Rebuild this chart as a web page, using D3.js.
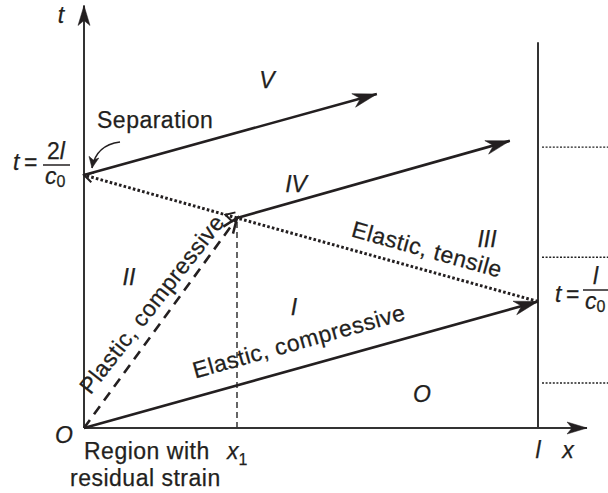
<!DOCTYPE html>
<meta charset="utf-8">
<head>
<script src="https://d3js.org/d3.v7.min.js"></script>
<style>
  body { margin: 0; background: #fff; }
  text { font-family: "Liberation Sans", Arial, Helvetica, sans-serif; fill: #231f20; font-size: 23px; letter-spacing: 0.5px; stroke: #231f20; stroke-width: 0.25px; }
  .it { font-style: italic; letter-spacing: 0; }
</style>
</head>
<body>
<div id="chart"></div>
<script>
  // values in units of l (position) and l/c0 (time)
  var x1 = 0.337;
  var elasticCompressive = [[0, 0], [1, 1]];
  var plasticCompressive = [[0, 0], [x1, 1.66]];
  var reflectedFirst = [[1, 1], [x1, 1.66]];
  var reflectedSecond = [[x1, 1.66], [0, 2]];
  var waveIV = [[x1, 1.66], [0.938, 2.27]];
  var waveV = [[0, 2], [0.645, 2.64]];
  var guideLevels = [2.22, 1.35, 0.356];
  var axisEnds = { t: 3.34, x: 1.108, bar: 3.05 };

  var regionLabels = ["O", "I", "II", "III", "IV", "V"];
  var waveLabels = ["Elastic, compressive", "Plastic, compressive", "Elastic, tensile"];

  var W = 608, H = 493;

  var svg = d3.select("#chart").append("svg")
    .attr("width", W).attr("height", H);

  var x = d3.scaleLinear().domain([0, 1]).range([84, 538]);
  var t = d3.scaleLinear().domain([0, 2]).range([428, 175]);

  var line = d3.line().x(function(d) { return x(d[0]); }).y(function(d) { return t(d[1]); });

  // markers
  var defs = svg.append("defs");
  function marker(id, path, filled, refX, sw) {
    defs.append("marker")
      .attr("id", id)
      .attr("markerUnits", "userSpaceOnUse")
      .attr("viewBox", "-30 -15 40 30")
      .attr("markerWidth", 40).attr("markerHeight", 30)
      .attr("refX", refX || 0).attr("refY", 0)
      .attr("orient", "auto")
      .append("path")
        .attr("d", path)
        .attr("fill", filled ? "#231f20" : "none")
        .attr("stroke", "#231f20")
        .attr("stroke-width", sw || (filled ? 0.5 : 2));
  }
  marker("head", "M0,0 L-24,-7 L-17,0 L-24,7 Z", true);
  marker("axhead", "M0,0 L-20,-6 L-15,0 L-20,6 Z", true);
  marker("small", "M0,0 L-11,-5 L-8,0 L-11,5 Z", true);
  marker("chev", "M-9,-5 L0,0 L-9,5", false, 0, 2);
  marker("chevA", "M-9,-5 L0,0 L-9,5", false, -12, 2);
  marker("dashhead", "M-15,-6 L0,0 L-15,6", false, 0, 2.5);

  // axes
  svg.append("line")
    .attr("x1", x(0)).attr("y1", t(0))
    .attr("x2", x(0)).attr("y2", t(axisEnds.t))
    .attr("stroke", "#333").attr("stroke-width", 2)
    .attr("marker-end", "url(#axhead)");
  svg.append("line")
    .attr("x1", x(0)).attr("y1", t(0))
    .attr("x2", x(axisEnds.x)).attr("y2", t(0))
    .attr("stroke", "#333").attr("stroke-width", 2)
    .attr("marker-end", "url(#axhead)");
  // free end x = l
  svg.append("line")
    .attr("x1", x(1)).attr("y1", t(0))
    .attr("x2", x(1)).attr("y2", t(axisEnds.bar))
    .attr("stroke", "#333").attr("stroke-width", 2);

  // dotted guides right of the bar
  svg.selectAll(".guide")
    .data(guideLevels)
    .enter().append("line")
      .attr("x1", x(1) + 4).attr("x2", W)
      .attr("y1", function(d) { return t(d); })
      .attr("y2", function(d) { return t(d); })
      .attr("stroke", "#222").attr("stroke-width", 1.4)
      .attr("stroke-dasharray", "2,1.6");

  // x1 dashed vertical
  svg.append("line")
    .attr("x1", x(x1)).attr("y1", t(0))
    .attr("x2", x(x1)).attr("y2", t(plasticCompressive[1][1]) + 4)
    .attr("stroke", "#333").attr("stroke-width", 1.5)
    .attr("stroke-dasharray", "6,4");

  // waves
  svg.append("path").attr("d", line(elasticCompressive))
    .attr("fill", "none").attr("stroke", "#231f20").attr("stroke-width", 2.6)
    .attr("marker-end", "url(#head)");
  svg.append("path").attr("d", line(plasticCompressive))
    .attr("fill", "none").attr("stroke", "#231f20").attr("stroke-width", 2.6)
    .attr("stroke-dasharray", "10,7")
    .attr("marker-end", "url(#dashhead)");
  svg.append("path").attr("d", line(reflectedFirst))
    .attr("fill", "none").attr("stroke", "#231f20").attr("stroke-width", 3)
    .attr("stroke-dasharray", "2.6,2.2")
    .attr("marker-end", "url(#chevA)");
  svg.append("path").attr("d", line(reflectedSecond))
    .attr("fill", "none").attr("stroke", "#231f20").attr("stroke-width", 3)
    .attr("stroke-dasharray", "2.6,2.2")
    .attr("marker-end", "url(#chev)");
  svg.append("path").attr("d", line(waveIV))
    .attr("fill", "none").attr("stroke", "#231f20").attr("stroke-width", 2.6)
    .attr("marker-end", "url(#head)");
  svg.append("path").attr("d", line(waveV))
    .attr("fill", "none").attr("stroke", "#231f20").attr("stroke-width", 2.6)
    .attr("marker-end", "url(#head)");

  // separation pointer
  var sx = x(0), sy = t(2);
  svg.append("path")
    .attr("d", "M" + (sx + 36) + "," + (sy - 33) + " Q" + (sx + 12) + "," + (sy - 30) + " " + (sx + 8) + "," + (sy - 7))
    .attr("fill", "none").attr("stroke", "#231f20").attr("stroke-width", 1.5)
    .attr("marker-end", "url(#small)");
  svg.append("text").attr("x", 97).attr("y", 128).text("Separation");

  // wave labels along the lines
  var angE = Math.atan2(t(1) - t(0), x(1) - x(0)) * 180 / Math.PI;
  var angT = Math.atan2(t(2) - t(1), x(0) - x(1)) * 180 / Math.PI + 180;
  function along(txt, cx, cy, ang) {
    svg.append("text")
      .attr("text-anchor", "middle")
      .attr("transform", "translate(" + cx + "," + cy + ") rotate(" + ang + ")")
      .text(txt);
  }
  along(waveLabels[0], 301, 349, angE);
  along(waveLabels[1], 158, 309, -52);
  along(waveLabels[2], 425, 257, angT);

  // region numerals
  var regionPos = [[422, 402], [294, 315], [129, 285], [487, 247], [296, 192], [267, 88]];
  svg.selectAll(".region")
    .data(regionLabels)
    .enter().append("text")
      .attr("class", "it")
      .attr("text-anchor", "middle")
      .attr("x", function(d, i) { return regionPos[i][0]; })
      .attr("y", function(d, i) { return regionPos[i][1]; })
      .text(function(d) { return d; });

  // axis labels
  svg.append("text").attr("class", "it").attr("text-anchor", "middle").attr("x", 61).attr("y", 23).text("t");
  svg.append("text").attr("class", "it").attr("text-anchor", "middle").attr("x", 64).attr("y", 443).text("O");
  svg.append("text").attr("class", "it").attr("text-anchor", "middle").attr("x", x(1)).attr("y", 458).text("l");
  svg.append("text").attr("class", "it").attr("text-anchor", "middle").attr("x", 568).attr("y", 458).text("x");
  var x1t = svg.append("text").attr("class", "it").attr("x", x(x1) - 10).attr("y", 459);
  x1t.append("tspan").text("x");
  x1t.append("tspan").attr("font-style", "normal").attr("font-size", "16px").attr("dy", 6).text("1");
  svg.append("text").attr("x", 84).attr("y", 459).text("Region with");
  svg.append("text").attr("x", 70).attr("y", 486).text("residual strain");

  // time fractions
  function fraction(tx, tyBase, barY, barX0, barX1, num, numX) {
    svg.append("text").attr("class", "it").attr("x", tx).attr("y", tyBase).text("t");
    svg.append("text").attr("x", tx + 11).attr("y", tyBase).style("letter-spacing", "0").text("=");
    svg.append("line").attr("x1", barX0).attr("x2", barX1)
      .attr("y1", barY).attr("y2", barY)
      .attr("stroke", "#231f20").attr("stroke-width", 1.5);
    var n = svg.append("text").attr("x", numX).attr("y", barY - 6).style("letter-spacing", "0");
    if (num.length > 1) n.append("tspan").text(num[0]);
    n.append("tspan").attr("font-style", "italic").text(num[num.length - 1]);
    var c = svg.append("text").attr("class", "it").attr("x", barX0 + 2).attr("y", barY + 19);
    c.append("tspan").text("c");
    c.append("tspan").attr("font-style", "normal").attr("font-size", "16px").attr("dy", 3).text("0");
  }
  fraction(13, 170, 165, 43, 70, ["2", "l"], 47);
  fraction(555, 302, 290, 583, 620, ["l"], 593);
</script>
</body>
